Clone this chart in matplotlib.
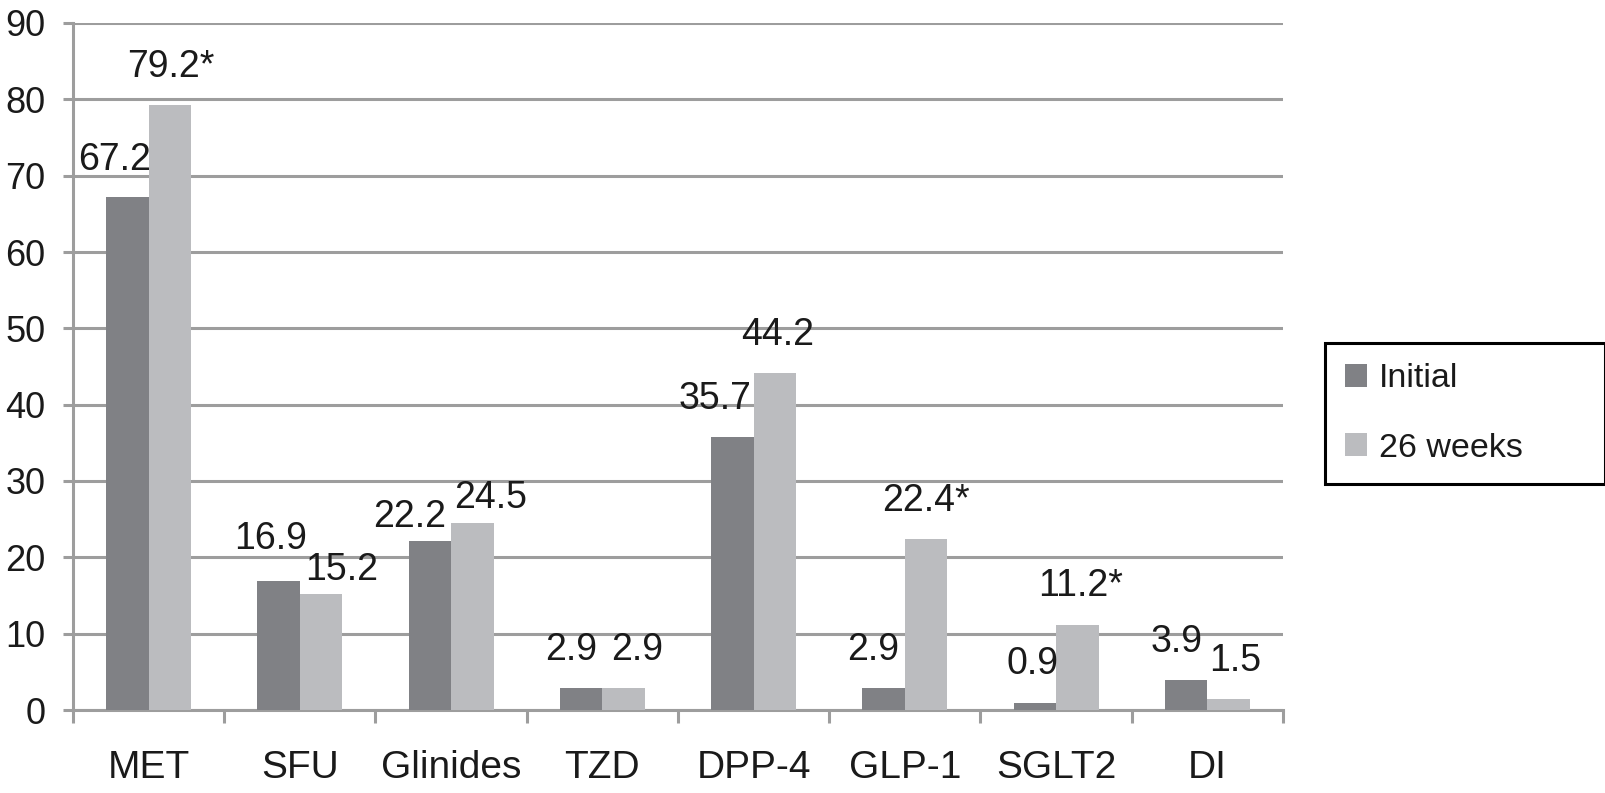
import matplotlib
matplotlib.use("Agg")
from matplotlib import pyplot as plt
import numpy as np

plt.rcParams['font.family'] = ['Liberation Sans', 'DejaVu Sans']

# Data
categories = ['MET', 'SFU', 'Glinides', 'TZD', 'DPP-4', 'GLP-1', 'SGLT2', 'DI']
initial = [67.2, 16.9, 22.2, 2.9, 35.7, 2.9, 0.9, 3.9]
week26 = [79.2, 15.2, 24.5, 2.9, 44.2, 22.4, 11.2, 1.5]
initial_labels = ['67.2', '16.9', '22.2', '2.9', '35.7', '2.9', '0.9', '3.9']
week26_labels = ['79.2*', '15.2', '24.5', '2.9', '44.2', '22.4*', '11.2*', '1.5']

# label nudges in pixels (dx, dy above bar top), as in the original figure
initial_nudge = [(-13, 27), (-8, 32), (-20, 14), (-10, 28), (-17, 28), (-10, 28), (-2, 29), (-10, 28)]
week26_nudge = [(1, 28), (20, 14), (18, 15), (13, 28), (3, 28), (0, 28), (3, 29), (7, 28)]

dark = '#808185'
light = '#bbbcbf'
grey = '#9d9d9d'
ink = '#1a1a1a'

fig = plt.figure(figsize=(16.06, 7.93), dpi=100)
ax = fig.add_axes([73/1606, 83/793, 1210/1606, 687/793])

x = np.arange(len(categories))
w = 0.281

b1 = ax.bar(x - w/2, initial, w, color=dark, label='Initial', zorder=3)
b2 = ax.bar(x + w/2, week26, w, color=light, label='26 weeks', zorder=3)

# value labels
for bars, labels, nudge in [(b1, initial_labels, initial_nudge), (b2, week26_labels, week26_nudge)]:
    for bar, lab, (dx, dy) in zip(bars, labels, nudge):
        ax.annotate(lab, (bar.get_x() + bar.get_width()/2, bar.get_height()),
                    xytext=(dx, dy), textcoords='offset pixels',
                    ha='center', va='baseline', fontsize=27, color=ink, zorder=4)

ax.set_xlim(-0.5, len(categories) - 0.5)
ax.set_ylim(0, 90)
ax.set_yticks(np.arange(0, 91, 10))
ax.yaxis.grid(True, color=grey, linewidth=2.2, zorder=0)
ax.set_axisbelow(True)

# x labels centred, tick marks between groups
ax.set_xticks(x)
ax.set_xticklabels(categories, fontsize=28, color=ink)
ax.set_xticks(np.arange(-0.5, len(categories)), minor=True)
ax.tick_params(axis='x', which='major', length=0, pad=29)
ax.tick_params(axis='x', which='minor', length=9, width=2.2, color=grey, direction='out')
ax.tick_params(axis='y', length=7, width=2.2, color=grey, pad=13, labelsize=26, labelcolor=ink)

for side in ['top', 'right']:
    ax.spines[side].set_visible(False)
for side in ['left', 'bottom']:
    ax.spines[side].set_color(grey)
    ax.spines[side].set_linewidth(2.2)

leg = ax.legend(loc='upper left', bbox_to_anchor=(1325/1606, (793-481)/793, 280/1606, 138/793),
                bbox_transform=fig.transFigure, mode='expand', borderaxespad=0,
                fontsize=24.5, handlelength=0.62, handleheight=0.65, handletextpad=0.36,
                labelspacing=1.12, borderpad=0.6, fancybox=False, framealpha=1)
leg.get_frame().set_edgecolor('black')
leg.get_frame().set_linewidth(2.2)
for t in leg.get_texts():
    t.set_color(ink)

fig.savefig('out.png', dpi=100)
